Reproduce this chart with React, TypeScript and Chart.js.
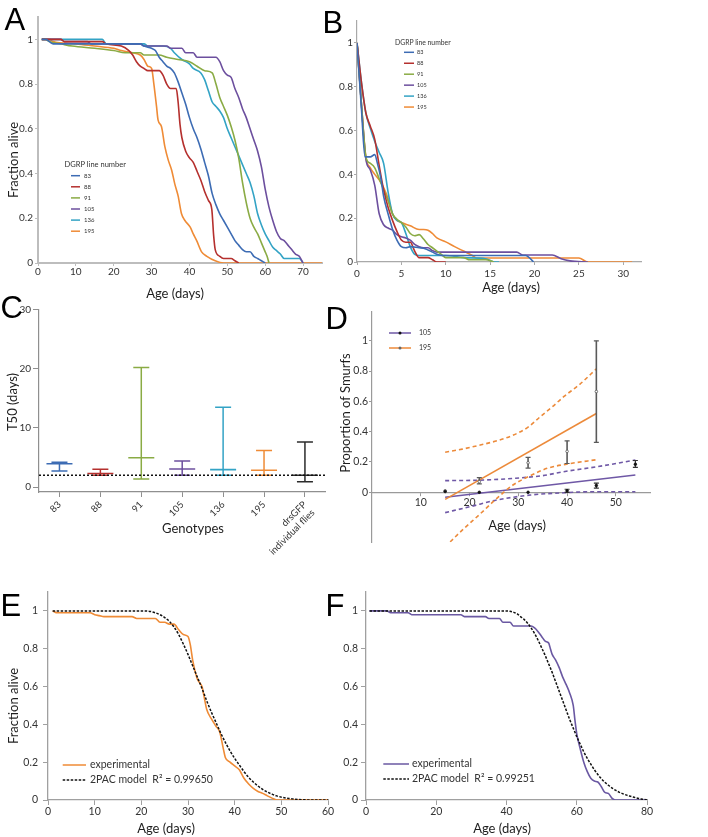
import React, { useEffect, useRef } from 'react';
import { Chart, registerables } from 'chart.js';

Chart.register(...registerables);

type Pt = [number, number];

const FONT = 'Lato, "Open Sans", "DejaVu Sans", sans-serif';

/* ---------------- shared ---------------- */
const dgrpLines = ['83', '88', '91', '105', '136', '195'];
const fracTicks = [0, 0.2, 0.4, 0.6, 0.8, 1];

/* ---------------- Panel A : survival ---------------- */
const ageTicksA = [0, 10, 20, 30, 40, 50, 60, 70];
const survA83: Pt[] = [[1,1],[2,1],[3,0.99],[4,0.98],[27,0.98],[28,0.97],[30,0.96],[31,0.95],[32,0.92],[33,0.9],[34,0.88],[35,0.87],[36,0.85],[37,0.81],[38,0.76],[39,0.71],[40,0.65],[41,0.6],[42,0.56],[43,0.51],[44,0.45],[45,0.39],[46,0.31],[47,0.26],[48,0.22],[49,0.19],[50,0.16],[51,0.13],[52,0.1],[53,0.08],[54,0.06],[55,0.05],[56,0.05],[57,0.03],[58,0.02],[59,0.01],[60,0]];
const survA88: Pt[] = [[1,1],[6,1],[7,0.99],[17,0.99],[18,0.98],[22,0.97],[24,0.95],[25,0.93],[26,0.9],[27,0.88],[28,0.87],[29,0.86],[32,0.86],[33,0.84],[34,0.8],[35,0.78],[36.5,0.78],[37,0.72],[37.5,0.62],[38,0.56],[39,0.5],[40,0.47],[41,0.45],[42,0.41],[43,0.37],[44,0.32],[45,0.28],[45.9,0.24],[46.4,0.12],[46.8,0.06],[48,0.03],[49,0.02],[51,0.02],[52,0.01],[53,0]];
const survA91: Pt[] = [[1,1],[2,1],[3,0.99],[6,0.98],[9,0.97],[15,0.96],[20,0.95],[23,0.94],[27,0.94],[28,0.93],[32,0.93],[34,0.92],[37,0.91],[40,0.9],[42,0.88],[44,0.86],[46,0.85],[47,0.8],[48,0.74],[49,0.7],[50,0.66],[51,0.61],[52,0.55],[53,0.47],[54,0.36],[55,0.27],[56,0.2],[57,0.16],[58,0.13],[59,0.09],[60,0.05],[60.5,0.03],[61,0]];
const survA105: Pt[] = [[1,1],[6,1],[7,0.99],[13,0.99],[14,0.98],[27,0.98],[28,0.97],[34,0.97],[35,0.96],[38,0.96],[39,0.94],[41,0.94],[42,0.92],[47,0.92],[48,0.9],[49,0.86],[50,0.84],[51,0.83],[52,0.78],[53,0.74],[54,0.69],[55,0.65],[56,0.6],[57,0.55],[58,0.5],[59,0.43],[60,0.33],[61,0.25],[62,0.19],[63,0.14],[64,0.11],[65,0.1],[66,0.08],[67,0.06],[68,0.04],[69,0.03],[70,0]];
const survA136: Pt[] = [[1,1],[17,1],[18,0.98],[28,0.98],[29,0.97],[33,0.97],[35,0.96],[36,0.94],[38,0.91],[40,0.89],[41,0.87],[43,0.85],[44,0.82],[45,0.77],[46,0.72],[47,0.7],[48,0.68],[49,0.65],[50,0.6],[51,0.56],[52,0.52],[53,0.48],[54,0.44],[55,0.4],[56,0.36],[57,0.3],[58,0.22],[59,0.17],[60,0.13],[61,0.1],[62,0.07],[63,0.055],[64,0.04],[65,0.02],[69,0.02],[70,0]];
const survA195: Pt[] = [[1,1],[3,1],[4,0.99],[10,0.98],[15,0.97],[20,0.96],[22,0.95],[25,0.94],[27,0.93],[28,0.91],[29,0.88],[30,0.87],[30.6,0.8],[31.3,0.7],[31.7,0.64],[32.6,0.61],[33.5,0.52],[34.4,0.46],[35.3,0.415],[36.1,0.355],[37,0.3],[37.9,0.22],[38.8,0.19],[40.2,0.16],[41,0.13],[41.9,0.1],[43.2,0.05],[44.6,0.03],[46.8,0.01],[49,0],[75,0]];
const survA = [survA83, survA88, survA91, survA105, survA136, survA195];

/* ---------------- Panel B : survival after infection ---------------- */
const ageTicksB = [0, 5, 10, 15, 20, 25, 30];
const survB83: Pt[] = [[0,1],[0.5,0.7],[0.9,0.48],[1.5,0.48],[2,0.49],[2.3,0.45],[2.7,0.38],[3,0.3],[3.5,0.22],[4,0.15],[4.5,0.1],[5,0.07],[5.5,0.065],[6,0.07],[7,0.065],[7.5,0.063],[8,0.055],[8.5,0.045],[9,0.035],[9.6,0.03],[19,0.03],[19.9,0]];
const survB88: Pt[] = [[0,1],[0.5,0.82],[1,0.68],[1.5,0.62],[2,0.56],[2.5,0.44],[3,0.33],[3.5,0.25],[4,0.19],[4.5,0.14],[5,0.1],[5.5,0.09],[6,0.09],[6.5,0.05],[7,0.02],[8,0.02],[8.5,0.01],[9,0],[10,0]];
const survB91: Pt[] = [[0,1],[0.5,0.72],[1,0.48],[1.5,0.45],[2,0.43],[2.5,0.38],[3,0.33],[3.5,0.28],[4,0.22],[4.5,0.195],[5,0.18],[5.5,0.16],[6,0.13],[6.5,0.12],[7,0.125],[7.5,0.105],[8,0.08],[8.5,0.065],[9,0.05],[9.5,0.035],[10,0.02],[12,0.02],[12.7,0.01],[14.5,0.01],[15.4,0]];
const survB105: Pt[] = [[0,1],[0.5,0.72],[1,0.47],[1.5,0.42],[2,0.35],[2.5,0.22],[3,0.17],[3.5,0.155],[4,0.145],[4.5,0.125],[5,0.115],[5.5,0.11],[6,0.1],[6.5,0.08],[7,0.07],[7.5,0.065],[8,0.065],[8.5,0.052],[9,0.045],[10,0.045],[18,0.045],[18.7,0.032],[22,0.032],[23,0.015],[24,0.005],[26,0]];
const survB136: Pt[] = [[0,1],[0.5,0.82],[1,0.68],[1.5,0.61],[2,0.55],[2.5,0.5],[3,0.45],[3.5,0.32],[4,0.22],[4.5,0.19],[5,0.18],[5.5,0.13],[6,0.07],[6.5,0.035],[7,0.03],[10,0.03],[12,0.02],[14.5,0.015],[15.5,0],[16,0]];
const survB195: Pt[] = [[0,1],[0.5,0.72],[1,0.48],[1.5,0.43],[2,0.4],[2.5,0.375],[3,0.34],[3.5,0.29],[4,0.22],[4.5,0.19],[5,0.18],[6,0.165],[7,0.148],[7.5,0.148],[8,0.145],[8.5,0.13],[9,0.11],[10,0.092],[11,0.07],[12,0.05],[13,0.03],[13.5,0.018],[25,0.018],[26,0],[31,0]];
const survB = [survB83, survB88, survB91, survB105, survB136, survB195];

/* ---------------- Panel C : T50 ---------------- */
const genotypes: (string | string[])[] = ['83', '88', '91', '105', '136', '195', ['drsGFP', 'individual flies']];
const t50Median = [3.95, 2.3, 4.95, 3.05, 2.95, 2.85, 2.0];
const t50Low = [2.7, 2.0, 1.35, 2.0, 2.0, 2.0, 0.9];
const t50High = [4.2, 3.0, 20.2, 4.4, 13.5, 6.2, 7.6];
const t50Ticks = [0, 10, 20, 30];
const t50Reference = 2;

/* ---------------- Panel D : Smurf proportion ---------------- */
const smurfAgeTicks = [10, 20, 30, 40, 50];
const smurfAge195 = [15, 22, 32, 40, 46];
const smurfProp195 = [0.01, 0.07, 0.195, 0.27, 0.665];
const smurfLo195 = [0.01, 0.055, 0.16, 0.19, 0.33];
const smurfHi195 = [0.01, 0.097, 0.23, 0.34, 1.0];
const smurfAge105 = [15, 22, 32, 40, 46, 54];
const smurfProp105 = [0.005, 0.0, 0.0, 0.01, 0.045, 0.185];
const smurfLo105 = [0.005, 0.0, 0.0, 0.0, 0.028, 0.165];
const smurfHi105 = [0.005, 0.0, 0.0, 0.02, 0.06, 0.21];
const fit195: Pt[] = [[15,-0.047],[46,0.52]];
const ciUp195: Pt[] = [[15,0.264],[18.5,0.285],[22.2,0.312],[25.6,0.34],[29,0.378],[32,0.43],[34.5,0.499],[37,0.565],[39.3,0.631],[42.5,0.71],[46,0.815]];
const ciLow195: Pt[] = [[15,-0.36],[18.5,-0.25],[22.2,-0.142],[25.6,-0.04],[29,0.05],[32.5,0.11],[35.9,0.158],[40.7,0.19],[46,0.215]];
const fit105: Pt[] = [[15,-0.033],[54,0.114]];
const ciUp105: Pt[] = [[15,0.077],[22,0.08],[29,0.092],[35,0.11],[39.3,0.136],[46.2,0.169],[54,0.213]];
const ciLow105: Pt[] = [[15,-0.134],[20.1,-0.095],[25.6,-0.051],[32.5,-0.018],[39.3,-0.003],[46,0.004],[54,0.004]];

/* ---------------- Panel E / F : model fits ---------------- */
const ageTicksE = [0, 10, 20, 30, 40, 50, 60];
const ageTicksF = [0, 20, 40, 60, 80];
const expE195: Pt[] = [[1,1],[2,0.99],[9,0.99],[10,0.98],[11,0.975],[12,0.97],[18,0.97],[19,0.96],[23,0.96],[24,0.94],[25,0.94],[26,0.93],[27,0.93],[28,0.9],[29,0.875],[30,0.865],[30.5,0.82],[31,0.74],[32,0.64],[32.5,0.62],[33,0.6],[33.5,0.54],[34,0.48],[35,0.43],[36,0.39],[36.8,0.36],[37.5,0.28],[38,0.225],[39,0.2],[40,0.18],[41,0.16],[42,0.115],[43,0.085],[44,0.062],[45,0.045],[46,0.035],[47,0.022],[48,0.01],[49,0],[60,0]];
const modelE195: Pt[] = [[1,1],[20,1],[22,0.997],[23,0.99],[24,0.98],[25,0.965],[26,0.945],[27,0.915],[28,0.875],[29,0.825],[30,0.77],[31,0.71],[32,0.65],[33,0.59],[34,0.525],[35,0.465],[36,0.41],[37,0.355],[38,0.305],[39,0.26],[40,0.22],[41,0.185],[42,0.15],[43,0.12],[44,0.095],[45,0.074],[46,0.056],[47,0.042],[48,0.031],[49,0.022],[50,0.015],[51,0.01],[52,0.007],[53,0.004],[55,0.001],[56,0],[60,0]];
const expF105: Pt[] = [[1,1],[6,1],[7,0.99],[12,0.99],[13,0.98],[27,0.98],[28,0.97],[34,0.97],[35,0.96],[38,0.96],[39,0.94],[41,0.94],[42,0.92],[47,0.92],[48,0.91],[49,0.89],[50,0.865],[51,0.84],[52,0.83],[52.5,0.8],[53,0.77],[54,0.74],[55,0.7],[56,0.65],[57,0.61],[58,0.565],[59,0.5],[59.5,0.42],[60,0.35],[61,0.27],[62,0.2],[63,0.15],[64,0.115],[65,0.1],[66,0.095],[67,0.07],[68,0.04],[69,0.035],[70,0.01],[71,0],[80,0]];
const modelF105: Pt[] = [[1,1],[40,1],[41,0.998],[42,0.993],[43,0.985],[44,0.97],[45,0.955],[46,0.935],[47,0.91],[48,0.88],[49,0.845],[50,0.805],[51,0.765],[52,0.72],[53,0.675],[54,0.625],[55,0.575],[56,0.525],[57,0.475],[58,0.425],[59,0.38],[60,0.335],[61,0.295],[62,0.255],[63,0.22],[64,0.19],[65,0.16],[66,0.135],[67,0.113],[68,0.094],[69,0.078],[70,0.064],[71,0.052],[72,0.042],[73,0.034],[74,0.027],[75,0.021],[76,0.016],[77,0.011],[78,0.007],[79,0.003],[80,0]];
const r2E = '0.99650';
const r2F = '0.99251';

/* ---------------- styles ---------------- */
const lineColor = ['#3d6cb4', '#b5302e', '#8aab44', '#6c4f9e', '#33a3c5', '#ef8b36'];
const gfpColor = '#2b2b2b';
const cColors = [...lineColor, gfpColor];
const smurfPurple = '#6f58a6';
const smurfOrange = '#ec8a3a';

/* ---------------- helpers ---------------- */
const fmtNum = (v: number) => String(Math.round(v * 100) / 100);

function axis(o: any) {
  const col = o.color ?? '#a9a9a9';
  return {
    type: 'linear',
    position: o.position ?? (o.horiz ? 'bottom' : 'left'),
    min: o.min,
    max: o.max,
    afterBuildTicks: (s: any) => { s.ticks = o.ticks.map((v: number) => ({ value: v })); },
    afterFit: (s: any) => { if (o.horiz) s.height = o.size; else s.width = o.size; },
    grid: { display: true, drawOnChartArea: false, drawTicks: true, tickLength: o.tickLen, color: col, tickColor: col, lineWidth: 1 },
    border: { display: true, color: col, width: o.bw ?? 1.5 },
    ticks: {
      autoSkip: false, maxRotation: o.rot ?? 0, minRotation: o.rot ?? 0,
      padding: o.pad, color: '#333', font: { family: FONT, size: o.font },
      callback: o.fmt ?? fmtNum,
    },
    title: { display: false },
  };
}

const curve = (pts: Pt[], color: string, extra: any = {}) => ({
  data: pts.map(([x, y]) => ({ x, y })),
  borderColor: color, backgroundColor: color, borderWidth: 1.6,
  pointRadius: 0, pointHoverRadius: 0, fill: false,
  cubicInterpolationMode: 'monotone', ...extra,
});

const inlineLegend = {
  id: 'inlineLegend',
  afterDatasetsDraw(chart: any, _a: any, o: any) {
    if (!o || !o.items) return;
    const ctx = chart.ctx;
    ctx.save();
    ctx.textBaseline = 'middle';
    ctx.textAlign = 'left';
    if (o.title) {
      ctx.font = `${o.titleSize}px ${FONT}`;
      ctx.fillStyle = '#333';
      ctx.fillText(o.title, o.titleX, o.titleY);
    }
    o.items.forEach((it: any, i: number) => {
      const y = o.y + i * o.gap;
      ctx.strokeStyle = it.color;
      ctx.lineWidth = it.width ?? 1.5;
      ctx.setLineDash(it.dash ?? []);
      ctx.beginPath();
      ctx.moveTo(o.x, y);
      ctx.lineTo(o.x + o.len, y);
      ctx.stroke();
      ctx.setLineDash([]);
      if (it.marker) {
        ctx.fillStyle = it.marker;
        ctx.beginPath();
        ctx.arc(o.x + o.len / 2, y, 1.5, 0, Math.PI * 2);
        ctx.fill();
      }
      ctx.font = `${o.size}px ${FONT}`;
      ctx.fillStyle = '#333';
      ctx.fillText(it.label, o.x + o.len + o.textGap, y);
    });
    ctx.restore();
  },
};

function baseOptions(padding: any, scales: any, legend: any) {
  return {
    responsive: false, maintainAspectRatio: false, animation: false, devicePixelRatio: 1,
    events: [],
    layout: { padding },
    plugins: { legend: { display: false }, tooltip: { enabled: false }, inlineLegend: legend },
    scales,
  };
}

type Box = { left: number; top: number; width: number; height: number };

function ChartCanvas({ box, make }: { box: Box; make: () => any }) {
  const ref = useRef<HTMLCanvasElement | null>(null);
  useEffect(() => {
    if (!ref.current) return;
    const chart = new Chart(ref.current, make());
    return () => chart.destroy();
  }, []);
  return (
    <canvas ref={ref} width={box.width} height={box.height}
      style={{ position: 'absolute', left: box.left, top: box.top, width: box.width, height: box.height }} />
  );
}

/* ---------------- panel configs ---------------- */
const boxA: Box = { left: 0, top: 0, width: 330, height: 305 };
const makeA = () => ({
  type: 'line',
  data: { datasets: survA.map((s, i) => curve(s, lineColor[i])) },
  options: baseOptions({ left: 0, top: 17, right: 8, bottom: 0 }, {
    x: axis({ horiz: true, min: 0, max: 75, ticks: ageTicksA, size: 42, tickLen: 3, pad: 0, font: 10, color: '#bdbdbd', bw: 2 }),
    y: axis({ horiz: false, min: 0, max: 1.1, ticks: fracTicks, size: 38, tickLen: 3, pad: 2, font: 10, color: '#bdbdbd', bw: 2 }),
  }, {
    title: 'DGRP line number', titleX: 64.5, titleY: 165, titleSize: 7.5,
    x: 71, y: 175.7, gap: 11.1, len: 9, textGap: 4, size: 6,
    items: dgrpLines.map((l, i) => ({ label: l, color: lineColor[i] })),
  }),
  plugins: [inlineLegend],
});

const boxB: Box = { left: 330, top: 0, width: 378, height: 305 };
const makeB = () => ({
  type: 'line',
  data: { datasets: survB.map((s, i) => curve(s, lineColor[i])) },
  options: baseOptions({ left: 0, top: 21, right: 67, bottom: 0 }, {
    x: axis({ horiz: true, min: 0, max: 32, ticks: ageTicksB, size: 43, tickLen: 3, pad: 3, font: 10, color: '#a9a9a9', bw: 1.2 }),
    y: axis({ horiz: false, min: 0, max: 1.1, ticks: fracTicks, size: 27, tickLen: 3, pad: 1, font: 10, color: '#a9a9a9', bw: 1.2 }),
  }, {
    title: 'DGRP line number', titleX: 65, titleY: 42.7, titleSize: 6.8,
    x: 74, y: 52.3, gap: 10.95, len: 10, textGap: 3, size: 5.5,
    items: dgrpLines.map((l, i) => ({ label: l, color: lineColor[i] })),
  }),
  plugins: [inlineLegend],
});

const boxC: Box = { left: 0, top: 295, width: 340, height: 262 };
const makeC = () => {
  const idx = genotypes.map((_, i) => i);
  const whiskers = idx.map((i) => ({
    data: [{ x: i, y: t50Low[i] }, { x: i, y: t50High[i] }],
    borderColor: cColors[i], backgroundColor: cColors[i], borderWidth: 1.5,
    pointStyle: 'line', pointRadius: 8, pointBorderColor: cColors[i], pointBorderWidth: 1.5, pointHoverRadius: 0, fill: false,
  }));
  const medians = {
    data: idx.map((i) => ({ x: i, y: t50Median[i] })),
    showLine: false, pointStyle: 'line', pointRadius: 13, pointBorderColor: cColors, pointBorderWidth: 1.6, pointHoverRadius: 0,
  };
  const ref = {
    data: [{ x: -0.5, y: t50Reference }, { x: 6.5, y: t50Reference }],
    borderColor: '#111', borderWidth: 1.5, borderDash: [2, 2], pointRadius: 0, fill: false,
  };
  return {
    type: 'line',
    data: { datasets: [ref, ...whiskers, medians] },
    options: baseOptions({ left: 0, top: 12, right: 12, bottom: 0 }, {
      x: axis({ horiz: true, min: -0.5, max: 6.5, ticks: idx, size: 65, tickLen: 5, pad: 2, font: 9.5, rot: 45, color: '#8f8f8f', bw: 1.2, fmt: (v: number) => genotypes[v] }),
      y: axis({ horiz: false, min: -0.833, max: 30, ticks: t50Ticks, size: 39, tickLen: 6, pad: 2, font: 10, color: '#8f8f8f', bw: 1.2 }),
    }, false),
  };
};

const boxD: Box = { left: 335, top: 295, width: 373, height: 260 };
const makeD = () => {
  const errBars = (xs: number[], lo: number[], hi: number[], color: string, w: number) =>
    xs.map((x, i) => ({
      data: [{ x, y: lo[i] }, { x, y: hi[i] }],
      borderColor: color, borderWidth: w, pointStyle: 'line', pointRadius: 2.5,
      pointBorderColor: color, pointBorderWidth: 1.2, pointHoverRadius: 0, fill: false,
    })).filter((_, i) => hi[i] > lo[i]);
  const pts = (xs: number[], ys: number[], fillC: string, border: string) => ({
    data: xs.map((x, i) => ({ x, y: ys[i] })),
    showLine: false, pointStyle: 'circle', pointRadius: 1.3,
    pointBackgroundColor: fillC, pointBorderColor: border, pointBorderWidth: 0.8, pointHoverRadius: 0,
  });
  return {
    type: 'line',
    data: {
      datasets: [
        pts(smurfAge105, smurfProp105, '#111', '#111'),
        pts(smurfAge195, smurfProp195, '#fff', '#555'),
        ...errBars(smurfAge195, smurfLo195, smurfHi195, '#5a5a5a', 1.6),
        ...errBars(smurfAge105, smurfLo105, smurfHi105, '#333', 1.3),
        curve(fit195, smurfOrange, { cubicInterpolationMode: 'default', tension: 0 }),
        curve(ciUp195, smurfOrange, { borderDash: [4, 3] }),
        curve(ciLow195, smurfOrange, { borderDash: [4, 3] }),
        curve(fit105, smurfPurple, { cubicInterpolationMode: 'default', tension: 0 }),
        curve(ciUp105, smurfPurple, { borderDash: [4, 3] }),
        curve(ciLow105, smurfPurple, { borderDash: [4, 3] }),
      ],
    },
    options: baseOptions({ left: 0, top: 17, right: 58, bottom: 12.7 }, {
      x: axis({ horiz: true, position: { y: 0 }, min: 0, max: 57, ticks: smurfAgeTicks, size: 20, tickLen: 3, pad: 1, font: 10.5, color: '#9a9a9a', bw: 1.2 }),
      y: axis({ horiz: false, min: -0.33, max: 1.19, ticks: fracTicks, size: 37, tickLen: 3, pad: 1, font: 10.5, color: '#9a9a9a', bw: 1.2 }),
    }, {
      x: 54, y: 38, gap: 15, len: 22, textGap: 8, size: 7,
      items: [
        { label: '105', color: smurfPurple, marker: '#111' },
        { label: '195', color: smurfOrange, marker: '#666' },
      ],
    }),
    plugins: [inlineLegend],
  };
};

const boxE: Box = { left: 0, top: 580, width: 340, height: 257 };
const makeE = () => ({
  type: 'line',
  data: {
    datasets: [
      curve(modelE195, '#111', { borderDash: [2.5, 1.5], borderWidth: 1.5 }),
      curve(expE195, lineColor[5]),
    ],
  },
  options: baseOptions({ left: 0, top: 12, right: 12, bottom: 0 }, {
    x: axis({ horiz: true, min: 0, max: 60, ticks: ageTicksE, size: 37, tickLen: 5, pad: 0, font: 10.5, color: '#a0a0a0', bw: 1.3 }),
    y: axis({ horiz: false, min: 0, max: 1.1, ticks: fracTicks, size: 48, tickLen: 5, pad: 5, font: 10.5, color: '#a0a0a0', bw: 1.3 }),
  }, {
    x: 62.7, y: 185, gap: 15, len: 23.3, textGap: 4, size: 10.5,
    items: [
      { label: 'experimental', color: lineColor[5] },
      { label: `2PAC model  R\u00b2 = ${r2E}`, color: '#111', dash: [2.5, 1.5] },
    ],
  }),
  plugins: [inlineLegend],
});

const boxF: Box = { left: 330, top: 580, width: 378, height: 257 };
const makeF = () => ({
  type: 'line',
  data: {
    datasets: [
      curve(modelF105, '#111', { borderDash: [2.5, 1.5], borderWidth: 1.5 }),
      curve(expF105, '#6a58a2'),
    ],
  },
  options: baseOptions({ left: 0, top: 12, right: 61, bottom: 0 }, {
    x: axis({ horiz: true, min: 0, max: 80, ticks: ageTicksF, size: 37, tickLen: 5, pad: 0, font: 10.5, color: '#a0a0a0', bw: 1.3 }),
    y: axis({ horiz: false, min: 0, max: 1.1, ticks: fracTicks, size: 36, tickLen: 5, pad: 3, font: 10.5, color: '#a0a0a0', bw: 1.3 }),
  }, {
    x: 53.3, y: 184, gap: 15, len: 25.7, textGap: 3, size: 10.5,
    items: [
      { label: 'experimental', color: '#6a58a2' },
      { label: `2PAC model  R\u00b2 = ${r2F}`, color: '#111', dash: [2.5, 1.5] },
    ],
  }),
  plugins: [inlineLegend],
});

/* ---------------- overlays (panel letters & axis titles) ---------------- */
const letters = [
  { t: 'A', x: 4.5, y: 4 }, { t: 'B', x: 322.5, y: 7 }, { t: 'C', x: 0.5, y: 292 },
  { t: 'D', x: 325.5, y: 303 }, { t: 'E', x: 0.5, y: 590 }, { t: 'F', x: 325.5, y: 590 },
];
const axisTitles = [
  { t: 'Age (days)', x: 175, y: 293, r: false },
  { t: 'Fraction alive', x: 13, y: 160, r: true },
  { t: 'Age (days)', x: 511, y: 287, r: false },
  { t: 'Genotypes', x: 193, y: 528, r: false },
  { t: 'T50 (days)', x: 12, y: 402, r: true },
  { t: 'Age (days)', x: 517, y: 525, r: false },
  { t: 'Proportion of Smurfs', x: 345, y: 413, r: true },
  { t: 'Age (days)', x: 166, y: 828, r: false },
  { t: 'Fraction alive', x: 12.5, y: 706, r: true },
  { t: 'Age (days)', x: 502, y: 828, r: false },
];

export default function App() {
  return (
    <div style={{ position: 'absolute', left: 0, top: 0, width: 708, height: 837, background: '#fff', overflow: 'hidden' }}>
      <ChartCanvas box={boxA} make={makeA} />
      <ChartCanvas box={boxB} make={makeB} />
      <ChartCanvas box={boxC} make={makeC} />
      <ChartCanvas box={boxD} make={makeD} />
      <ChartCanvas box={boxE} make={makeE} />
      <ChartCanvas box={boxF} make={makeF} />
      {letters.map((l) => (
        <div key={l.t} style={{ position: 'absolute', left: l.x, top: l.y, fontFamily: '"Liberation Sans", Arial, sans-serif', fontSize: 31, lineHeight: '31px', color: '#000' }}>{l.t}</div>
      ))}
      {axisTitles.map((a, i) => (
        <div key={i} style={{
          position: 'absolute', left: a.x, top: a.y, fontFamily: FONT, fontSize: 13, lineHeight: '13px', color: '#1e1e1e', whiteSpace: 'nowrap',
          transform: `translate(-50%, -50%)${a.r ? ' rotate(-90deg)' : ''}`,
        }}>{a.t}</div>
      ))}
    </div>
  );
}
